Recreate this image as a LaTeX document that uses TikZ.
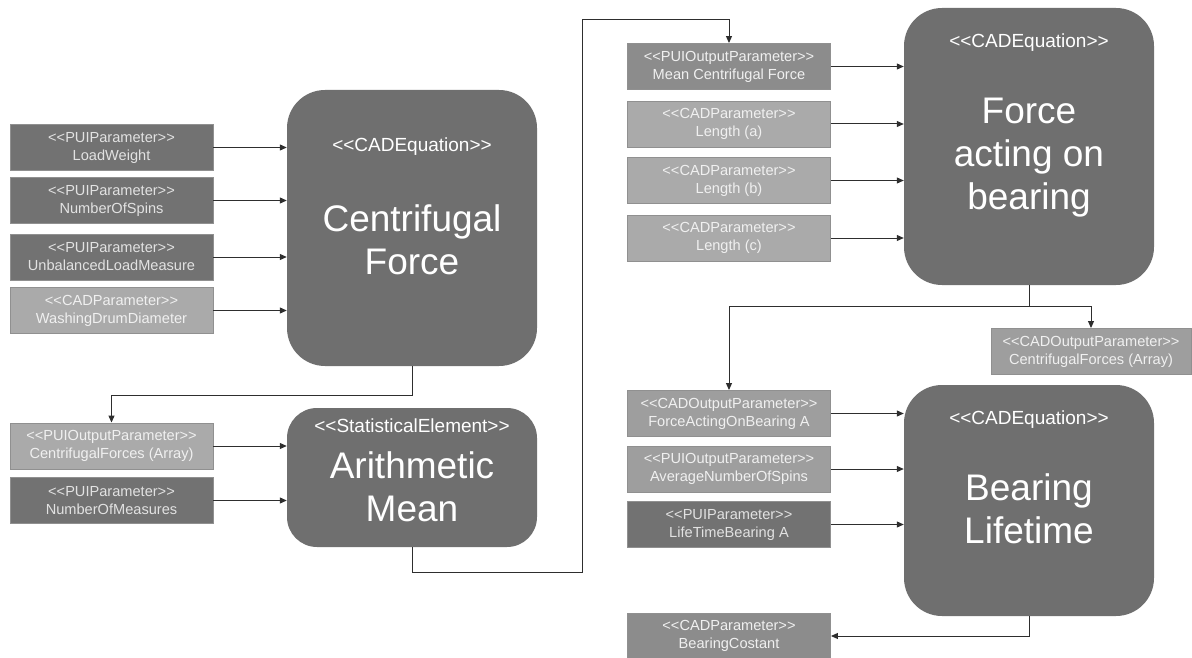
\documentclass[tikz,border=0pt]{standalone}
\usepackage{fontspec}
\setmainfont{Liberation Sans}[Ligatures=TeXOff]
\usetikzlibrary{arrows.meta}

\definecolor{eqfill}{HTML}{6F6F6F}
\definecolor{pdark}{HTML}{727272}
\definecolor{pmid}{HTML}{8C8C8C}
\definecolor{pout}{HTML}{9E9E9E}
\definecolor{plight}{HTML}{AAAAAA}
\definecolor{pedge}{HTML}{909090}
\definecolor{txtdark}{HTML}{E2E2E2}
\definecolor{txtlight}{HTML}{F0F0F0}
\definecolor{wire}{HTML}{2E2E2E}

\tikzset{
  param/.style={draw=pedge, line width=0.9pt, minimum width=203pt, minimum height=46pt,
    inner sep=0pt, align=center, font=\fontsize{14.6}{18}\selectfont},
  pdarkbox/.style={param, fill=pdark, text=txtdark},
  pmidbox/.style={param, fill=pmid, text=txtlight},
  poutbox/.style={param, fill=pout, text=txtlight},
  plightbox/.style={param, fill=plight, text=txtlight},
  eqbox/.style={fill=eqfill, rounded corners=38pt, minimum width=250pt, inner sep=0pt},
  stereo/.style={text=white, inner sep=0pt, font=\fontsize{19}{22}\selectfont},
  eqname/.style={text=white, inner sep=0pt, align=center, font=\fontsize{37}{43}\selectfont},
  conn/.style={draw=wire, line width=1pt, -{Triangle[length=7pt,width=6pt]}},
}

\begin{document}
\begin{tikzpicture}[x=1pt, y=-1pt]
\useasboundingbox (0,0) rectangle (1192,658);

% --- equation blocks ---
\node[eqbox, minimum height=276pt] (cf) at (412,228) {};
\node[stereo] (cfst) at (412,147) {<<CADEquation>>};
\node[eqname] (cfnm) at (412,240) {Centrifugal\\Force};

\node[eqbox, minimum height=139pt, rounded corners=30pt] (am) at (412,477.5) {};
\node[stereo] (amst) at (412,426) {<<StatisticalElement>>};
\node[eqname] (amnm) at (412,487) {Arithmetic\\Mean};

\node[eqbox, minimum height=277pt] (fb) at (1029,146.5) {};
\node[stereo] (fbst) at (1029,43) {<<CADEquation>>};
\node[eqname] (fbnm) at (1029,158) {Force\\acting on\\bearing};

\node[eqbox, minimum height=231pt] (bl) at (1029,500.5) {};
\node[stereo] (blst) at (1029,420) {<<CADEquation>>};
\node[eqname] (blnm) at (1029,509) {Bearing\\Lifetime};

% --- inputs of the centrifugal force ---
\node[pdarkbox] (lw) at (111.5,147.5) {<<PUIParameter>>\\LoadWeight};
\node[pdarkbox] (ns) at (111.5,200.5) {<<PUIParameter>>\\NumberOfSpins};
\node[pdarkbox] (ul) at (111.5,257) {<<PUIParameter>>\\UnbalancedLoadMeasure};
\node[plightbox] (wd) at (111.5,310.5) {<<CADParameter>>\\WashingDrumDiameter};

% --- inputs of the arithmetic mean ---
\node[plightbox] (cfa) at (111.5,446) {<<PUIOutputParameter>>\\CentrifugalForces (Array)};
\node[pdarkbox] (nm) at (111.5,500.5) {<<PUIParameter>>\\NumberOfMeasures};

% --- inputs of the bearing force ---
\node[pmidbox] (mcf) at (729,66.5) {<<PUIOutputParameter>>\\Mean Centrifugal Force};
\node[plightbox] (la) at (729,124) {<<CADParameter>>\\Length (a)};
\node[plightbox] (lb) at (729,180.5) {<<CADParameter>>\\Length (b)};
\node[plightbox] (lc) at (729,238) {<<CADParameter>>\\Length (c)};

\node[poutbox, minimum width=200pt] (cfo) at (1091,351.5) {<<CADOutputParameter>>\\CentrifugalForces (Array)};

% --- inputs and output of the bearing lifetime ---
\node[poutbox] (fab) at (729,413.5) {<<CADOutputParameter>>\\ForceActingOnBearing A};
\node[poutbox] (ans) at (729,469) {<<PUIOutputParameter>>\\AverageNumberOfSpins};
\node[pdarkbox] (ltb) at (729,524.5) {<<PUIParameter>>\\LifeTimeBearing A};
\node[pmidbox] (bc) at (729,636) {<<CADParameter>>\\BearingCostant};

% --- routing points ---
\coordinate (j1) at (412,395);
\coordinate (j2) at (412,572);
\coordinate (j3) at (582,572);
\coordinate (j4) at (582,20);
\coordinate (j5) at (1029,306);

% --- connectors ---
\foreach \n in {lw,ns,ul,wd} \draw[conn] (\n.east) -- (\n.east -| cf.west);
\foreach \n in {cfa,nm} \draw[conn] (\n.east) -- (\n.east -| am.west);
\foreach \n in {mcf,la,lb,lc} \draw[conn] (\n.east) -- (\n.east -| fb.west);
\foreach \n in {fab,ans,ltb} \draw[conn] (\n.east) -- (\n.east -| bl.west);

\draw[conn] (cf.south) -- (j1) -| (cfa.north);
\draw[conn] (am.south) -- (j2) -- (j3) -- (j4) -| (mcf.north);
\draw[conn] (fb.south) -- (j5) -| (fab.north);
\draw[conn] (j5) -| (cfo.north);
\draw[conn] (bl.south) |- (bc.east);
\end{tikzpicture}
\end{document}
